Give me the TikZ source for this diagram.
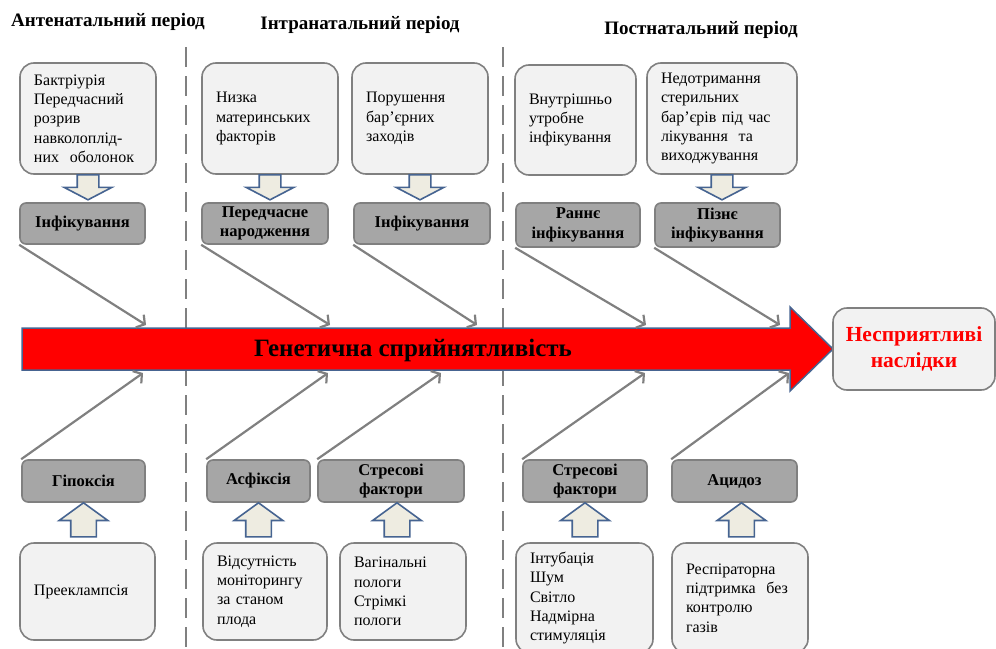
\documentclass[tikz,border=0pt]{standalone}
\usepackage{fontspec}
\setmainfont{Liberation Serif}
\usepackage{tikz}
\usetikzlibrary{arrows.meta,shapes.arrows,positioning}
\definecolor{bxlight}{RGB}{242,242,242}
\definecolor{bxdark}{RGB}{166,166,166}
\definecolor{bxline}{RGB}{128,128,128}
\definecolor{arblue}{RGB}{70,100,145}
\definecolor{arfill}{RGB}{238,236,225}
\tikzstyle{cause} = [rectangle, rounded corners=14pt, draw=bxline, fill=bxlight, line width=1.6pt, align=left, inner xsep=14pt, font=\fontsize{16}{19.3}\selectfont]
\tikzstyle{effect} = [rectangle, rounded corners=6pt, draw=bxline, fill=bxdark, line width=1.6pt, align=center, inner sep=0pt, font=\bfseries\fontsize{16.5}{19.5}\selectfont]
\tikzstyle{bone} = [line width=2.2pt, color=bxline, -{Straight Barb[length=6pt,width=15pt]}]
\tikzstyle{blockdown} = [single arrow, shape border rotate=270, draw=arblue, fill=arfill, line width=1.6pt, inner xsep=10pt, inner ysep=0pt, single arrow head extend=13pt, single arrow tip angle=125, minimum height=25pt, outer sep=0pt, anchor=tail]
\tikzstyle{blockup} = [single arrow, shape border rotate=90, draw=arblue, fill=arfill, line width=1.6pt, inner xsep=12pt, inner ysep=0pt, single arrow head extend=11.5pt, single arrow tip angle=108, minimum height=34pt, outer sep=0pt, anchor=tip]
\tikzstyle{period} = [font=\bfseries\fontsize{19}{22}\selectfont]
\tikzstyle{divider} = [line width=2pt, color=bxline, dash pattern=on 20pt off 9pt]

\begin{document}
\begin{tikzpicture}[x=1pt, y=-1pt]
\useasboundingbox (0,0) rectangle (996,648);
% periods
\node (ante) [period] at (108,22) {Антенатальний період};
\node (intra) [period] at (360,25) {Інтранатальний період};
\node (post) [period] at (701,30) {Постнатальний період};
\coordinate (d1a) at (186,47);
\coordinate (d1b) at (186,648);
\coordinate (d2a) at (503,47);
\coordinate (d2b) at (503,648);
\draw[divider] (d1a) -- (d1b);
\draw[divider] (d2a) -- (d2b);

% upper causes
\node (bact) [cause, text width=108pt, minimum height=111pt] at (88,118.5) {Бактріурія\\Передчасний\\розрив\\навколоплід-\\них\ \ оболонок};
\node (matr) [cause, text width=108pt, minimum height=111pt] at (270,118.5) {Низка\\материнських\\факторів};
\node (barr) [cause, text width=108pt, minimum height=111pt] at (420,118.5) {Порушення\\бар’єрних\\заходів};
\node (utro) [cause, text width=93pt, minimum height=110pt] at (575.5,120) {Внутрішньо\\утробне\\інфікування};
\node (ster) [cause, text width=122pt, minimum height=111pt] at (722,118.5) {Недотримання\\стерильних\\бар’єрів під час\\лікування\ \ та\\виходжування};

% upper effects
\node (inf1) [effect, minimum width=125pt, minimum height=41pt] at (82.5,223.5) {Інфікування};
\node (prem) [effect, minimum width=126pt, minimum height=41pt] at (265,223.5) {Передчасне\\народження};
\node (inf2) [effect, minimum width=136pt, minimum height=41pt] at (422,223.5) {Інфікування};
\node (early) [effect, minimum width=124pt, minimum height=44pt] at (578,225) {Раннє\\інфікування};
\node (late) [effect, minimum width=125pt, minimum height=44pt] at (717.5,225) {Пізнє\\інфікування};

\node (ad1) [blockdown] at (bact.south) {};
\node (ad2) [blockdown] at (matr.south) {};
\node (ad3) [blockdown] at (barr.south) {};
\node (ad5) [blockdown] at (ster.south) {};

% spine
\draw[fill=red, draw=arblue, line width=1.5pt] (22,328) -- (790,328) -- (790,307) -- (833,349) -- (790,391) -- (790,370) -- (22,370) -- cycle;
\node (gen) [font=\bfseries\fontsize{25}{28}\selectfont] at (413,350) {Генетична сприйнятливість};
\node (out) [rectangle, rounded corners=14pt, draw=bxline, fill=bxlight, line width=1.6pt, minimum width=162pt, minimum height=82pt, align=center, text=red, font=\bfseries\fontsize{21.5}{26}\selectfont] at (914,349) {Несприятливі\\наслідки};

% lower effects
\node (hypo) [effect, minimum width=123pt, minimum height=42pt] at (83.5,481) {Гіпоксія};
\node (asph) [effect, minimum width=103pt, minimum height=42pt] at (258.5,481) {Асфіксія};
\node (str1) [effect, minimum width=146pt, minimum height=42pt] at (391,481) {Стресові\\фактори};
\node (str2) [effect, minimum width=124pt, minimum height=42pt] at (585,481) {Стресові\\фактори};
\node (acid) [effect, minimum width=125pt, minimum height=42pt] at (734.5,481) {Ацидоз};

% lower causes
\node (prec) [cause, text width=107pt, minimum height=97pt] at (87.5,591.5) {Прееклампсія};
\node (moni) [cause, text width=96pt, minimum height=97pt] at (265,591.5) {Відсутність\\моніторингу\\за станом\\плода};
\node (vagi) [cause, text width=98pt, minimum height=97pt] at (403,591.5) {Вагінальні\\пологи\\Стрімкі\\пологи};
\node (intu) [cause, text width=109pt, minimum height=110pt] at (584.5,598) {Інтубація\\Шум\\Світло\\Надмірна\\стимуляція};
\node (resp) [cause, text width=108pt, minimum height=110pt] at (740,598) {Респіраторна\\підтримка\ \ без\\контролю\\газів};

\node (au1) [blockup] at (hypo.south) {};
\node (au2) [blockup] at (asph.south) {};
\node (au3) [blockup] at ([xshift=6pt]str1.south) {};
\node (au4) [blockup] at (str2.south) {};
\node (au5) [blockup] at ([xshift=7pt]acid.south) {};

% bones
\coordinate (e1) at (146,325);
\coordinate (e2) at (330,325);
\coordinate (e3) at (477,325);
\coordinate (e4) at (646,325);
\coordinate (e5) at (780,325);
\draw[bone] (inf1.south west) -- (e1);
\draw[bone] (prem.south west) -- (e2);
\draw[bone] (inf2.south west) -- (e3);
\draw[bone] (early.south west) -- (e4);
\draw[bone] (late.south west) -- (e5);
\coordinate (f1) at (143,373);
\coordinate (f2) at (328,373);
\coordinate (f3) at (441,373);
\coordinate (f4) at (645,373);
\coordinate (f5) at (789,373);
\draw[bone] (hypo.north west) -- (f1);
\draw[bone] (asph.north west) -- (f2);
\draw[bone] (str1.north west) -- (f3);
\draw[bone] (str2.north west) -- (f4);
\draw[bone] (acid.north west) -- (f5);
\end{tikzpicture}
\end{document}
